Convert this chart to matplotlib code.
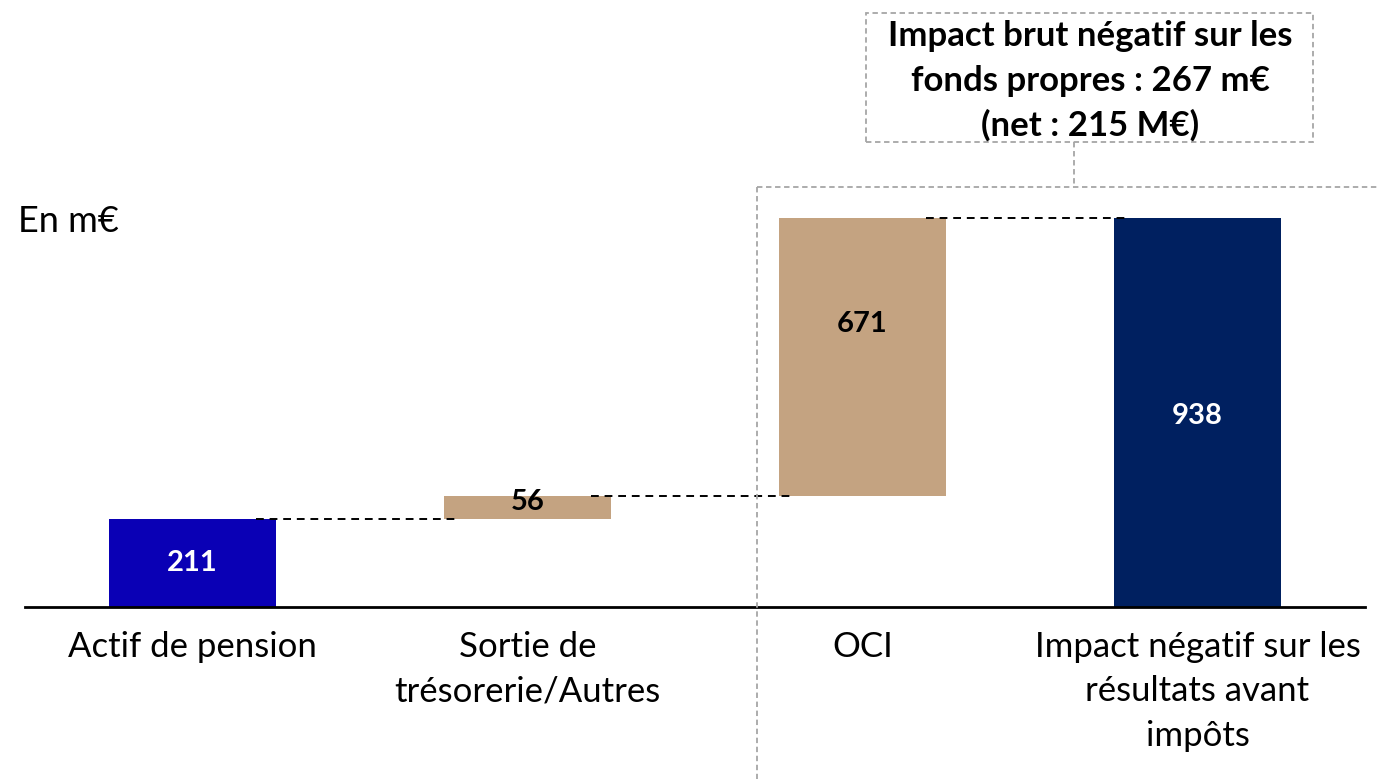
import matplotlib
matplotlib.use("Agg")
import matplotlib.pyplot as plt
from matplotlib.patches import Rectangle
from matplotlib.lines import Line2D

plt.rcParams['font.family'] = ['Lato', 'DejaVu Sans']

categories = ["Actif de pension", "Sortie de\ntrésorerie/Autres", "OCI",
              "Impact négatif sur les\nrésultats avant\nimpôts"]
values = [211, 56, 671, 938]
is_total = [True, False, False, True]
bar_colors = ["#0A00B5", "#C4A381", "#C4A381", "#002060"]
label_colors = ["white", "black", "black", "white"]
box_text = "Impact brut négatif sur les\nfonds propres : 267 m€\n(net : 215 M€)"
unit_text = "En m€"

W, H = 1378, 779
fig = plt.figure(figsize=(W / 100, H / 100), dpi=100)

# axes geometry in pixels
x0, x1 = 25, 1365
y_base, y_top = 607, 180
px_per_unit = (607 - 218) / 938.0
ymax = (y_base - y_top) / px_per_unit
ax = fig.add_axes([x0 / W, (H - y_base) / H, (x1 - x0) / W, (y_base - y_top) / H])
ax.set_xlim(-0.5, 3.5)
ax.set_ylim(0, ymax)

# waterfall bottoms
bottoms = []
running = 0
for v, tot in zip(values, is_total):
    if tot:
        bottoms.append(0)
        running = v
    else:
        bottoms.append(running)
        running += v
xs = list(range(len(values)))
ax.bar(xs, values, bottom=bottoms, width=0.5, color=bar_colors, zorder=2)

# connectors
tops = [b + v for b, v in zip(bottoms, values)]
for i in range(len(values) - 1):
    ax.plot([i + 0.19, i + 0.79], [tops[i], tops[i]], ls=(0, (4, 3)), color="black",
            lw=1.4, zorder=3)

# value labels
for i, (b, v) in enumerate(zip(bottoms, values)):
    if v < 100:
        yl = b + v * 0.75
    elif is_total[i] and i > 0:
        yl = b + v * 0.49
    elif i == 2:
        yl = b + v * 0.62
    else:
        yl = b + v * 0.5
    ax.text(i, yl, str(v), ha="center", va="center", fontsize=21, fontweight="bold",
            color=label_colors[i], zorder=4)

for s in ["top", "right", "left"]:
    ax.spines[s].set_visible(False)
ax.spines["bottom"].set_linewidth(2)
ax.set_yticks([])
ax.set_xticks(xs)
ax.set_xticklabels(categories, fontsize=25, linespacing=1.48, va="top")
ax.tick_params(axis="x", length=0, pad=17)

fig.text(18 / W, 1 - 222 / H, unit_text, fontsize=26, ha="left", va="center")

gray = "#A6A6A6"
# annotation box
fig.add_artist(Rectangle((866 / W, 1 - 142 / H), (1313 - 866) / W, (142 - 13) / H,
                         transform=fig.transFigure, fill=False, ec=gray, lw=1.3,
                         ls=(0, (3, 2))))
fig.text(1090 / W, 1 - 81 / H, box_text, ha="center", va="center", fontsize=25,
         fontweight="bold", linespacing=1.48)
fig.add_artist(Line2D([1074 / W, 1074 / W], [1 - 142 / H, 1 - 187 / H],
                      transform=fig.transFigure, color=gray, lw=1.3, ls=(0, (3, 2))))
# big dashed region
fig.add_artist(Line2D([757 / W, 1.01], [1 - 187 / H, 1 - 187 / H],
                      transform=fig.transFigure, color=gray, lw=1.3, ls=(0, (3, 2))))
fig.add_artist(Line2D([757 / W, 757 / W], [1 - 187 / H, -0.01],
                      transform=fig.transFigure, color=gray, lw=1.3, ls=(0, (3, 2))))

fig.savefig("out.png", dpi=100)
